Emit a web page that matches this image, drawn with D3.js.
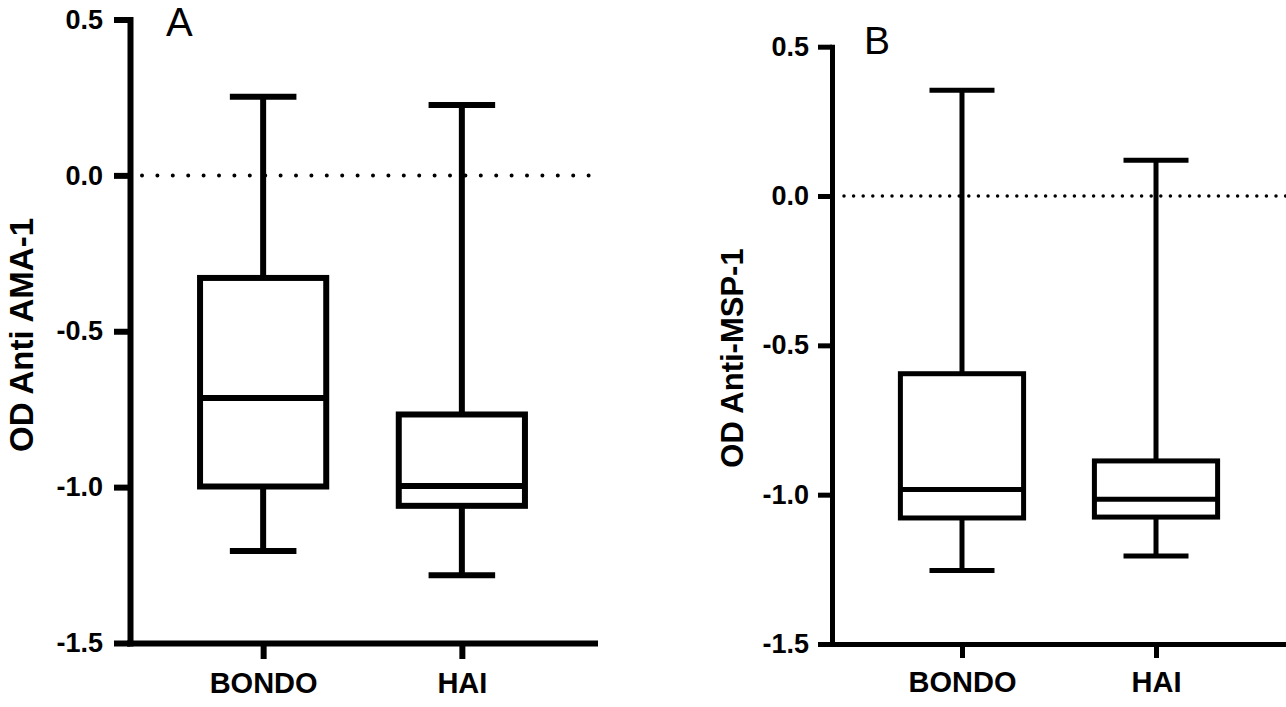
<!DOCTYPE html>
<html>
<head>
<meta charset="utf-8">
<script src="https://cdn.jsdelivr.net/npm/d3@7"></script>
<style>
  body { margin: 0; background: #fff; }
  svg { display: block; font-family: "Liberation Sans", Arial, sans-serif; }
</style>
</head>
<body>
<svg id="chart" width="1286" height="707"></svg>
<script>
// groups and ticks
const groups = ["BONDO", "HAI"];
const yTicks = [0.5, 0.0, -0.5, -1.0, -1.5];

// panel A - anti AMA-1 (min, Q1, median, Q3, max)
const ama1Min = [-1.205, -1.283];
const ama1Q1 = [-0.998, -1.060];
const ama1Median = [-0.714, -0.996];
const ama1Q3 = [-0.329, -0.767];
const ama1Max = [0.252, 0.226];

// panel B - anti MSP-1
const msp1Min = [-1.254, -1.205];
const msp1Q1 = [-1.078, -1.075];
const msp1Median = [-0.983, -1.015];
const msp1Q3 = [-0.595, -0.887];
const msp1Max = [0.354, 0.12];

const svg = d3.select("#chart");
// prism style labels use a plain hyphen
const fmt = d => d3.format(".1f")(d).replace("\u2212", "-");

function drawPanel(p) {
  const g = svg.append("g");

  const y = d3.scaleLinear().domain([-1.5, 0.5]).range([p.bottom, p.top]);
  const x = d3.scalePoint().domain(groups).range([p.left, p.right]).padding(0.67);
  const step = x.step();
  const boxW = step * 0.635;
  const capW = step * 0.335;

  // dotted line at 0
  g.append("line")
    .attr("x1", p.left + 12).attr("x2", p.right)
    .attr("y1", y(0)).attr("y2", y(0))
    .attr("stroke", "#000")
    .attr("stroke-width", p.dotSize)
    .attr("stroke-linecap", "round")
    .attr("stroke-dasharray", `0 ${p.dotGap}`);

  // y axis
  const ya = g.append("g")
    .attr("transform", `translate(${p.left},0)`)
    .call(d3.axisLeft(y).tickValues(yTicks).tickFormat(fmt)
      .tickSize(p.tick).tickSizeOuter(0).tickPadding(p.pad));
  // x axis
  const xa = g.append("g")
    .attr("transform", `translate(0,${p.bottom})`)
    .call(d3.axisBottom(x).tickSize(p.tick).tickSizeOuter(0).tickPadding(p.xpad));

  [ya, xa].forEach(a => {
    a.select(".domain").attr("stroke-width", p.stroke).attr("stroke-linecap", "square");
    a.selectAll(".tick line").attr("stroke-width", p.stroke);
    a.selectAll("text").attr("fill", "#000").attr("font-weight", "bold");
  });
  ya.selectAll("text").attr("font-size", p.tickFont);
  xa.selectAll("text").attr("font-size", p.xFont);
  xa.select(".domain").attr("d", `M${p.left},0.5H${p.right}`);

  const s = p.stats;
  const boxes = g.selectAll(".box").data(groups).enter().append("g");

  // whiskers
  boxes.append("line")
    .attr("x1", d => x(d)).attr("x2", d => x(d))
    .attr("y1", (d, i) => y(s.max[i])).attr("y2", (d, i) => y(s.q3[i]));
  boxes.append("line")
    .attr("x1", d => x(d)).attr("x2", d => x(d))
    .attr("y1", (d, i) => y(s.q1[i])).attr("y2", (d, i) => y(s.min[i]));
  // caps
  boxes.append("line")
    .attr("x1", d => x(d) - capW / 2).attr("x2", d => x(d) + capW / 2)
    .attr("y1", (d, i) => y(s.max[i])).attr("y2", (d, i) => y(s.max[i]));
  boxes.append("line")
    .attr("x1", d => x(d) - capW / 2).attr("x2", d => x(d) + capW / 2)
    .attr("y1", (d, i) => y(s.min[i])).attr("y2", (d, i) => y(s.min[i]));
  // box
  boxes.append("rect")
    .attr("x", d => x(d) - boxW / 2).attr("width", boxW)
    .attr("y", (d, i) => y(s.q3[i]))
    .attr("height", (d, i) => y(s.q1[i]) - y(s.q3[i]))
    .attr("fill", "none");
  // median
  boxes.append("line")
    .attr("x1", d => x(d) - boxW / 2).attr("x2", d => x(d) + boxW / 2)
    .attr("y1", (d, i) => y(s.median[i])).attr("y2", (d, i) => y(s.median[i]));

  boxes.selectAll("line, rect").attr("stroke", "#000").attr("stroke-width", p.stroke);

  // panel letter
  g.append("text")
    .attr("x", p.letterX).attr("y", p.letterY)
    .attr("font-size", p.letterSize)
    .text(p.letter);

  // y label
  g.append("text")
    .attr("transform", `translate(${p.labelX},${p.labelY}) rotate(-90)`)
    .attr("text-anchor", "middle")
    .attr("font-size", p.labelFont)
    .attr("font-weight", "bold")
    .text(p.ylabel);
}

drawPanel({
  left: 130, right: 595, top: 19.5, bottom: 643,
  stroke: 6, tick: 16, pad: 11, xpad: 13, tickFont: 27, xFont: 29,
  dotGap: 15.4, dotSize: 4,
  letter: "A", letterX: 166, letterY: 36, letterSize: 40,
  ylabel: "OD Anti AMA-1", labelX: 33, labelY: 335, labelFont: 33,
  stats: { min: ama1Min, q1: ama1Q1, median: ama1Median, q3: ama1Q3, max: ama1Max }
});

drawPanel({
  left: 832, right: 1286, top: 46.7, bottom: 644,
  stroke: 5, tick: 14, pad: 9, xpad: 13, tickFont: 27, xFont: 29,
  dotGap: 9.6, dotSize: 3.5,
  letter: "B", letterX: 864, letterY: 54, letterSize: 39,
  ylabel: "OD Anti-MSP-1", labelX: 743, labelY: 358, labelFont: 31,
  stats: { min: msp1Min, q1: msp1Q1, median: msp1Median, q3: msp1Q3, max: msp1Max }
});
</script>
</body>
</html>
